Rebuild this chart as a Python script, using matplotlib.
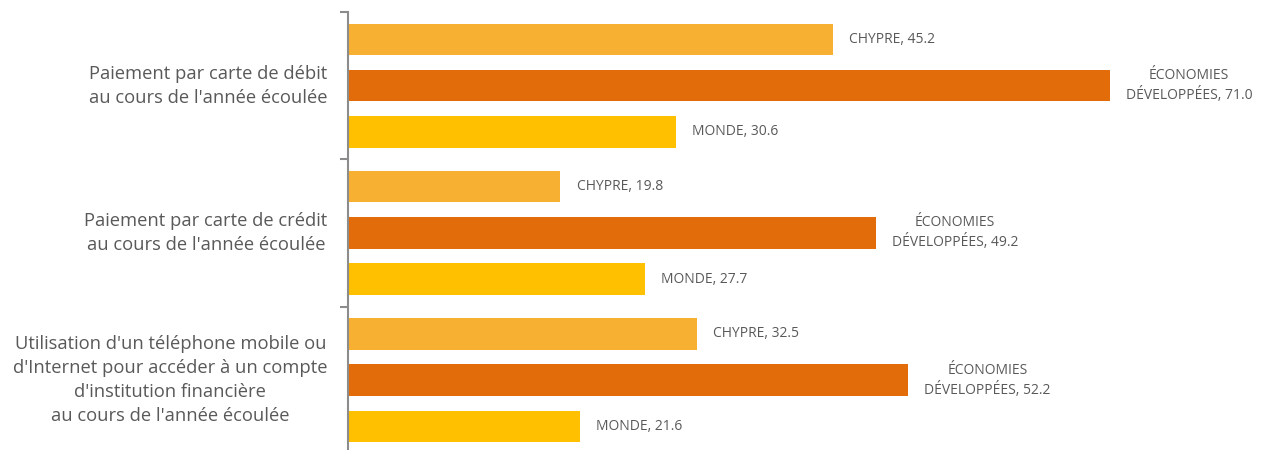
import matplotlib.pyplot as plt
import numpy as np

# Données
categories = [
    "Paiement par carte de débit\nau cours de l'année écoulée",
    "Paiement par carte de crédit\nau cours de l'année écoulée",
    "Utilisation d'un téléphone mobile ou\nd'Internet pour accéder à un compte\nd'institution financière\nau cours de l'année écoulée",
]
series_names = ["CHYPRE", "ÉCONOMIES\nDÉVELOPPÉES", "MONDE"]
chypre = [45.2, 19.8, 32.5]
economies = [71.0, 49.2, 52.2]
monde = [30.6, 27.7, 21.6]
colors = ["#F7B032", "#E36C0A", "#FFC000"]

plt.rcParams['font.family'] = ['Open Sans', 'DejaVu Sans']
text_color = "#595959"

fig = plt.figure(figsize=(12.86, 4.5), dpi=100)
ax_h = 441.75
ax = fig.add_axes([348 / 1286, (450 - 12 - ax_h) / 450, 1 - 348 / 1286, ax_h / 450])

G = 147.25 / 46.25  # hauteur d'un groupe en unités de barre
n = len(categories)
centers = np.arange(n) * G + G / 2

for k, (name, vals, col) in enumerate(zip(series_names, [chypre, economies, monde], colors)):
    ys = centers + (k - 1)
    ax.barh(ys, vals, height=0.68, color=col)
    for y, v in zip(ys, vals):
        ax.text(v + 1.5, y, f"{name}, {v:.1f}", va='center', ha='left',
                multialignment='center', fontsize=10, color=text_color,
                linespacing=1.35)

ax.set_xlim(0, (1286 - 348) / 10.73)
ax.set_ylim(n * G, 0)

ax.set_yticks(np.arange(n + 1) * G)
ax.set_yticklabels([])
ax.tick_params(axis='y', direction='out', length=6, width=1.5, color="#8C8C8C")
ax.set_xticks([])
for c, y in zip(categories, centers):
    ax.text(-1.9, y, c, ha='right', va='center', multialignment='center',
            fontsize=13.2, color=text_color, linespacing=1.42)

for s in ['top', 'right', 'bottom']:
    ax.spines[s].set_visible(False)
ax.spines['left'].set_color("#8C8C8C")
ax.spines['left'].set_linewidth(1.5)

fig.savefig("out.png", dpi=100)
